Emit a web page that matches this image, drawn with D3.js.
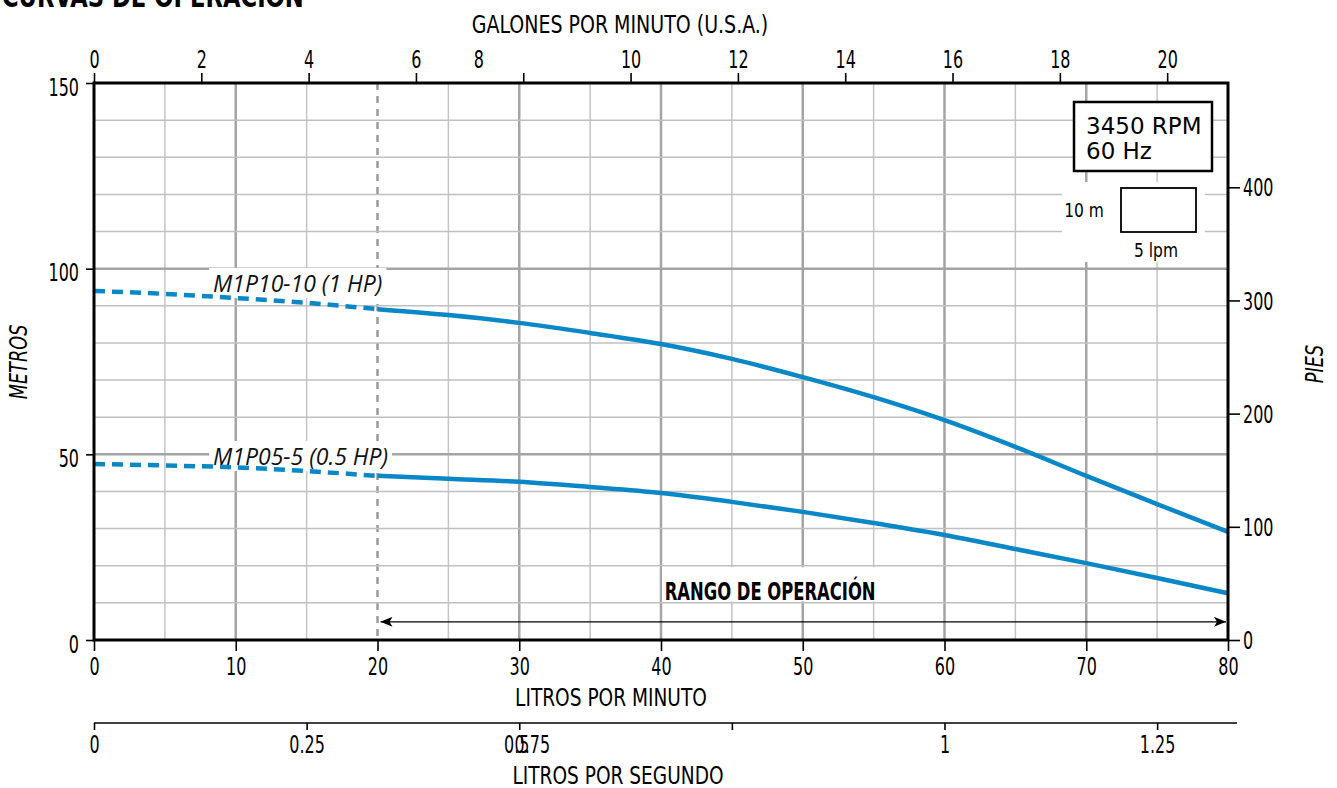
<!DOCTYPE html>
<html>
<head>
<meta charset="utf-8">
<script src="https://cdn.jsdelivr.net/npm/d3@7"></script>
<style>
  html, body { margin: 0; padding: 0; background: #fff; }
  svg { display: block; }
  .cond { font-family: "Liberation Sans Narrow", "DejaVu Sans Condensed", "DejaVu Sans", sans-serif; font-stretch: condensed; }
</style>
</head>
<body>
<svg id="chart" width="1337" height="788"></svg>
<script>
// ---------- data ----------
const flowLpm = [0, 5, 10, 15, 20, 25, 30, 35, 40, 45, 50, 55, 60, 65, 70, 75, 80];
const head1HP = [94.0, 93.2, 92.1, 90.8, 89.1, 87.5, 85.4, 82.7, 79.7, 75.7, 70.8, 65.4, 59.2, 52.0, 44.2, 36.6, 29.1];
const head05HP = [47.4, 47.0, 46.5, 45.5, 44.2, 43.4, 42.6, 41.2, 39.6, 37.2, 34.5, 31.5, 28.3, 24.5, 20.7, 16.7, 12.6];
const seriesNames = ["M1P10-10 (1 HP)", "M1P05-5 (0.5 HP)"];
const operatingStart = 20; // lpm, start of operating range
const lpmTicks = [0, 10, 20, 30, 40, 50, 60, 70, 80];
const gpmTicks = [0, 2, 4, 6, 8, 10, 12, 14, 16, 18, 20];
const lpsTicks = [0, 0.25, 0.5, 0.75, 1, 1.25];
const meterTicks = [0, 50, 100, 150];
const feetTicks = [0, 100, 200, 300, 400];

const LPM_PER_GPM = 3.78541;
const FT_PER_M = 3.28084;

// ---------- layout ----------
const svg = d3.select("#chart");
const L = 94, R = 1228, T = 83, B = 640;
const x = d3.scaleLinear().domain([0, 80]).range([L, R]);
const y = d3.scaleLinear().domain([0, 150]).range([B, T]);
const xg = d3.scaleLinear().domain([0, 80 / LPM_PER_GPM]).range([L, R]);
const xs = d3.scaleLinear().domain([0, 80 / 60]).range([L, R]);
const yft = d3.scaleLinear().domain([0, 150 * FT_PER_M]).range([B, T]);

const blue = "#0a87c6";
const condFont = '"Liberation Sans Narrow", "DejaVu Sans Condensed", "DejaVu Sans", sans-serif';

// horizontally squeeze text (to imitate a tall condensed face)
function squeeze(sel, sx) {
  sel.each(function () {
    const t = d3.select(this);
    const xv = +(t.attr("x") || 0);
    const tr = t.attr("transform") || "";
    t.attr("x", xv / sx).attr("transform", (tr ? tr + " " : "") + `scale(${sx},1)`);
  });
  return sel;
}
function condText(parent, xp, yp, str, size, sx, opts = {}) {
  const t = parent.append("text").attr("class", "cond")
    .attr("x", xp).attr("y", yp).attr("font-size", size)
    .attr("text-anchor", opts.anchor || "start")
    .attr("font-weight", opts.weight || null)
    .attr("font-style", opts.style || null)
    .text(str);
  if (opts.rotate) {
    t.attr("x", 0).attr("y", 0).attr("transform", `translate(${xp},${yp}) rotate(${opts.rotate})`);
  }
  squeeze(t, sx);
  return t;
}

// title (cut off at top)
condText(svg, 2, 7, "CURVAS DE OPERACIÓN", 30, 0.84, { weight: "bold" });

// ---------- grid ----------
const grid = svg.append("g");
const vGrid = d3.range(0, 81, 5).filter(v => v > 0 && v < 80);
grid.selectAll("line.v").data(vGrid).join("line")
  .attr("x1", d => x(d)).attr("x2", d => x(d))
  .attr("y1", T).attr("y2", B)
  .attr("stroke", d => d === operatingStart ? "#9a9a9a" : (d % 10 === 0 ? "#a4a4a4" : "#c4c4c4"))
  .attr("stroke-width", d => d % 10 === 0 ? 2.5 : 1.5)
  .attr("stroke-dasharray", d => d === operatingStart ? "7,6" : null);
const hGrid = d3.range(10, 150, 10);
grid.selectAll("line.h").data(hGrid).join("line")
  .attr("x1", L).attr("x2", R)
  .attr("y1", d => y(d)).attr("y2", d => y(d))
  .attr("stroke", d => d % 50 === 0 ? "#a4a4a4" : "#c0c0c0")
  .attr("stroke-width", d => d % 50 === 0 ? 2.5 : 1.5);

// white patches behind annotations
const patches = svg.append("g");

// ---------- curves ----------
const rows1 = flowLpm.map((f, i) => ({ f, h: head1HP[i] }));
const rows05 = flowLpm.map((f, i) => ({ f, h: head05HP[i] }));
const line = d3.line().x(d => x(d.f)).y(d => y(d.h)).curve(d3.curveMonotoneX);

const labelData = [
  { name: seriesNames[0], f: 8.4, h: head1HP[0] },
  { name: seriesNames[1], f: 8.4, h: head05HP[0] }
];
const labelG = svg.append("g");
labelData.forEach(d => {
  const t = labelG.append("text")
    .attr("x", x(d.f)).attr("y", y(d.h) + 1)
    .attr("font-family", '"Open Sans", "Noto Sans", sans-serif')
    .attr("font-style", "italic").attr("font-size", 23)
    .attr("fill", "#111")
    .text(d.name);
  const bb = t.node().getBBox();
  patches.append("rect").attr("x", bb.x - 4).attr("y", bb.y + 1).attr("width", bb.width + 8).attr("height", bb.height - 2).attr("fill", "#fff");
});

const curves = svg.append("g").attr("fill", "none").attr("stroke", blue).attr("stroke-width", 4.5);
[rows1, rows05].forEach(rows => {
  curves.append("path").attr("d", line(rows.filter(r => r.f <= operatingStart))).attr("stroke-dasharray", "11,7");
  curves.append("path").attr("d", line(rows.filter(r => r.f >= operatingStart)));
});
labelG.raise();

// ---------- operating range ----------
const defs = svg.append("defs");
["start", "end"].forEach(k => {
  defs.append("marker").attr("id", "arr-" + k)
    .attr("viewBox", "0 0 12 10").attr("refX", k === "end" ? 12 : 0).attr("refY", 5)
    .attr("markerWidth", 12).attr("markerHeight", 10).attr("markerUnits", "userSpaceOnUse")
    .attr("orient", "auto")
    .append("path")
    .attr("d", k === "end" ? "M0,0 L12,5 L0,10 L3,5 Z" : "M12,0 L0,5 L12,10 L9,5 Z")
    .attr("fill", "#000");
});
patches.append("rect").attr("x", x(40) + 1).attr("y", y(19.6))
  .attr("width", x(55.4) - x(40)).attr("height", y(10.4) - y(19.6)).attr("fill", "#fff");
condText(svg, x(47.7), y(10.8), "RANGO DE OPERACIÓN", 24, 0.76, { anchor: "middle", weight: "bold" });
svg.append("line")
  .attr("x1", x(operatingStart) + 3).attr("x2", x(80) - 2)
  .attr("y1", y(4.9)).attr("y2", y(4.9))
  .attr("stroke", "#000").attr("stroke-width", 1.3)
  .attr("marker-start", "url(#arr-start)").attr("marker-end", "url(#arr-end)");

// ---------- info boxes ----------
svg.append("rect").attr("x", 1074).attr("y", 102).attr("width", 138).attr("height", 69)
  .attr("fill", "#fff").attr("stroke", "#000").attr("stroke-width", 2.5);
svg.append("text").attr("x", 1086).attr("y", 134)
  .attr("font-family", '"DejaVu Sans", sans-serif').attr("font-size", 23).text("3450 RPM");
svg.append("text").attr("x", 1086).attr("y", 159)
  .attr("font-family", '"DejaVu Sans", sans-serif').attr("font-size", 23).text("60 Hz");

patches.append("rect").attr("x", 1062).attr("y", 182).attr("width", 143).attr("height", 80).attr("fill", "#fff");
svg.append("rect").attr("x", 1121).attr("y", 188).attr("width", 75).attr("height", 44)
  .attr("fill", "#fff").attr("stroke", "#000").attr("stroke-width", 1.8);
condText(svg, 1084, 217, "10 m", 20, 0.86, { anchor: "middle" });
condText(svg, 1156, 257, "5 lpm", 20, 0.86, { anchor: "middle" });

// ---------- axes ----------
function styleAxis(g, size, sx) {
  const txt = g.selectAll("text").attr("font-family", condFont).attr("font-stretch", "condensed")
    .attr("font-size", size).attr("fill", "#000");
  g.selectAll(".tick line").attr("stroke", "#000").attr("stroke-width", 1.6);
  squeeze(txt, sx);
}

// frame
const frame = svg.append("g").attr("stroke", "#000").attr("stroke-width", 3).attr("fill", "none");
frame.append("rect").attr("x", L).attr("y", T).attr("width", R - L).attr("height", B - T);

const TS = 24, TX = 0.74;
const axTop = svg.append("g").attr("transform", `translate(0,${T})`)
  .call(d3.axisTop(xg).tickValues(gpmTicks).tickSize(10).tickPadding(5).tickFormat(d3.format("d")));
axTop.select(".domain").remove();
axTop.selectAll(".tick text").filter(d => d === 8).attr("x", -45);
styleAxis(axTop, TS, TX);

const axBottom = svg.append("g").attr("transform", `translate(0,${B})`)
  .call(d3.axisBottom(x).tickValues(lpmTicks).tickSize(11).tickPadding(7).tickFormat(d3.format("d")));
axBottom.select(".domain").remove();
styleAxis(axBottom, TS, TX);

const axLeft = svg.append("g").attr("transform", `translate(${L},0)`)
  .call(d3.axisLeft(y).tickValues(meterTicks).tickSize(8).tickPadding(7).tickFormat(d3.format("d")));
axLeft.select(".domain").remove();
axLeft.selectAll(".tick text").attr("dy", "0.5em");
styleAxis(axLeft, TS, TX);

const axRight = svg.append("g").attr("transform", `translate(${R},0)`)
  .call(d3.axisRight(yft).tickValues(feetTicks).tickSize(12).tickPadding(3).tickFormat(d3.format("d")));
axRight.select(".domain").remove();
axRight.selectAll(".tick text").attr("dy", "0.36em");
styleAxis(axRight, TS, TX);

const axLps = svg.append("g").attr("transform", `translate(0,723)`)
  .call(d3.axisBottom(xs).tickValues(lpsTicks).tickSize(7).tickPadding(6).tickFormat(d => String(d)));
axLps.select(".domain").remove();
axLps.append("line").attr("x1", xs(0)).attr("x2", xs(80 / 60) + 9).attr("y1", 0).attr("y2", 0)
  .attr("stroke", "#000").attr("stroke-width", 1.6);
axLps.selectAll(".tick text").filter(d => d === 0.75).attr("x", -200);
axLps.selectAll(".tick text").filter(d => d === 0.5).attr("x", -3);
styleAxis(axLps, TS, TX);

// axis titles
condText(svg, 620, 33, "GALONES POR MINUTO (U.S.A.)", 24, 0.88, { anchor: "middle" });
condText(svg, 611, 706, "LITROS POR MINUTO", 24, 0.86, { anchor: "middle" });
condText(svg, 618, 784, "LITROS POR SEGUNDO", 24, 0.86, { anchor: "middle" });
condText(svg, 27, 362, "METROS", 24, 0.82, { anchor: "middle", style: "italic", rotate: -90 });
condText(svg, 1323, 364, "PIES", 24, 0.82, { anchor: "middle", style: "italic", rotate: -90 });
</script>
</body>
</html>
